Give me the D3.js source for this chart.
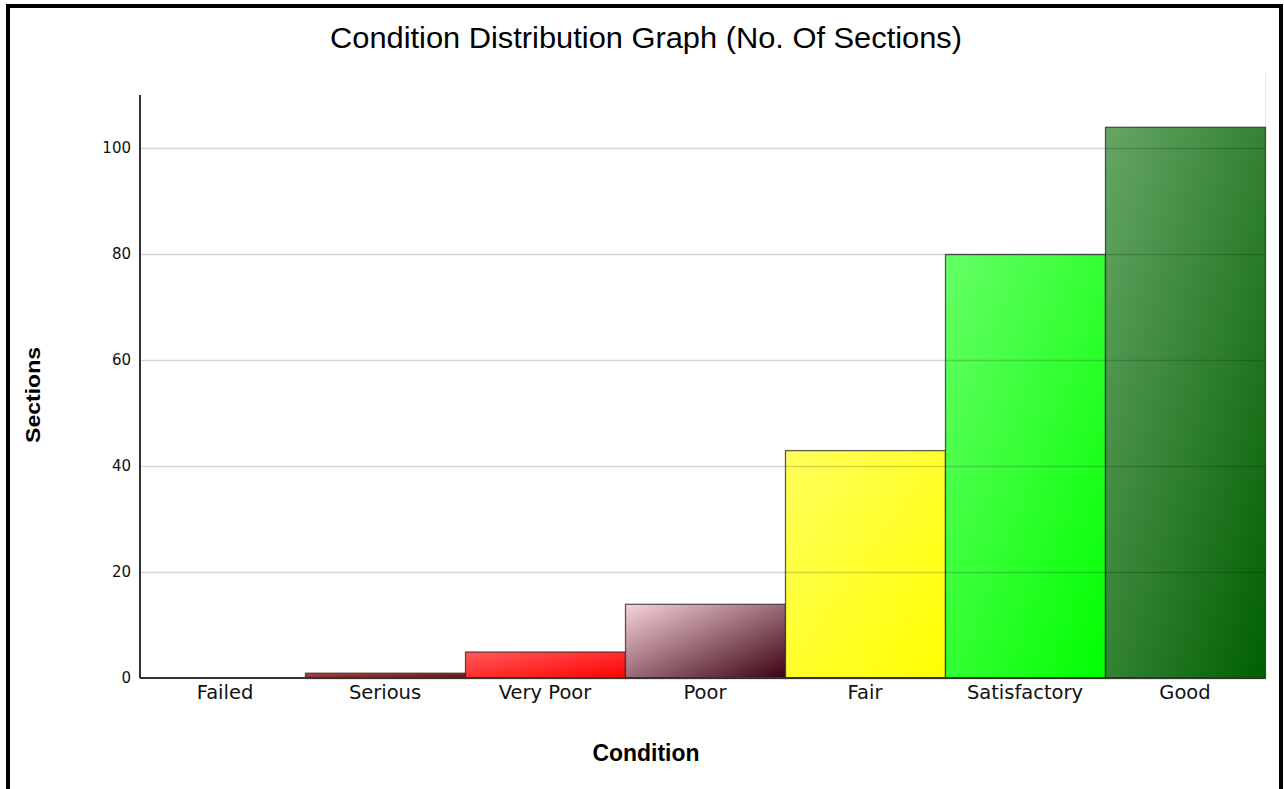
<!DOCTYPE html>
<html>
<head>
<meta charset="utf-8">
<script src="https://cdn.jsdelivr.net/npm/d3@7/dist/d3.min.js"></script>
<style>
  html, body { margin: 0; padding: 0; background: #fff; }
  svg { display: block; }
</style>
</head>
<body>
<svg id="chart" width="1284" height="789"></svg>
<script>
// Condition categories and the number of sections in each
const categories = ["Failed", "Serious", "Very Poor", "Poor", "Fair", "Satisfactory", "Good"];
const sections = [0, 1, 5, 14, 43, 80, 104];
const yTicks = [0, 20, 40, 60, 80, 100];

// Light (top-left) and dark (bottom-right) gradient stops for each category
const lightColors = ["#c05050", "#b04848", "#ff5a5a", "#f8d4dc", "#ffff5c", "#66ff66", "#66a666"];
const darkColors  = ["#600000", "#5a0808", "#ff0000", "#3a0010", "#ffff00", "#00ff00", "#005f00"];

const svg = d3.select("#chart");

// outer frame
svg.append("rect")
  .attr("x", 8).attr("y", 6)
  .attr("width", 1273).attr("height", 820)
  .attr("fill", "none").attr("stroke", "#000").attr("stroke-width", 4);

const x = d3.scaleBand().domain(categories).range([145, 1265]).padding(0);
const y = d3.scaleLinear().domain([0, 110]).range([678, 95]);

// gradients
const defs = svg.append("defs");
categories.forEach((c, i) => {
  const g = defs.append("linearGradient")
    .attr("id", "grad" + i)
    .attr("x1", 0).attr("y1", 0).attr("x2", 1).attr("y2", 1);
  g.append("stop").attr("offset", "0%").attr("stop-color", lightColors[i]);
  g.append("stop").attr("offset", "100%").attr("stop-color", darkColors[i]);
});

// title
svg.append("text")
  .attr("x", 646).attr("y", 48)
  .attr("text-anchor", "middle")
  .attr("font-family", "Liberation Sans, Arial, sans-serif")
  .attr("font-size", 30)
  .attr("textLength", 632)
  .attr("lengthAdjust", "spacingAndGlyphs")
  .attr("fill", "#000")
  .text("Condition Distribution Graph (No. Of Sections)");

// faint right edge of plot area
svg.append("line")
  .attr("x1", 1265.5).attr("x2", 1265.5)
  .attr("y1", 73).attr("y2", y(0))
  .attr("stroke", "#e8e8e8").attr("stroke-width", 1);

// bars
svg.append("g").selectAll("rect")
  .data(categories.map((c, i) => ({ c, v: sections[i], i })))
  .join("rect")
  .attr("x", d => x(d.c) + 0.5)
  .attr("y", d => y(d.v) + 0.5)
  .attr("width", x.bandwidth())
  .attr("height", d => Math.max(0, y(0) - y(d.v)))
  .attr("fill", d => `url(#grad${d.i})`)
  .attr("stroke", d => d.v > 0 ? "rgba(40,40,40,0.75)" : "none")
  .attr("stroke-width", 1.3);

// horizontal gridlines (drawn over the bars, faintly)
svg.append("g").selectAll("line")
  .data(yTicks.filter(t => t > 0))
  .join("line")
  .attr("x1", 141).attr("x2", 1265)
  .attr("y1", d => Math.round(y(d)) + 0.5)
  .attr("y2", d => Math.round(y(d)) + 0.5)
  .attr("stroke", "rgba(0,0,0,0.16)").attr("stroke-width", 1.3);

// y axis
const yAxis = svg.append("g")
  .attr("transform", "translate(140,0)")
  .call(d3.axisLeft(y).tickValues(yTicks).tickSize(0).tickPadding(9));
yAxis.select(".domain").attr("stroke", "#333").attr("stroke-width", 2)
  .attr("d", `M0,${y(110)}V${y(0)}`);
yAxis.selectAll("text")
  .attr("font-family", "Verdana, DejaVu Sans, sans-serif")
  .attr("font-size", 15).attr("fill", "#111");

// x axis
const xAxis = svg.append("g")
  .attr("transform", `translate(0,${y(0)})`)
  .call(d3.axisBottom(x).tickSize(0).tickPadding(7));
xAxis.select(".domain").attr("stroke", "#333").attr("stroke-width", 2)
  .attr("d", "M140,0H1265");
xAxis.selectAll("text")
  .attr("font-family", "Verdana, DejaVu Sans, sans-serif")
  .attr("font-size", 19.5).attr("fill", "#111");

// axis titles
svg.append("text")
  .attr("transform", "translate(40,395) rotate(-90)")
  .attr("text-anchor", "middle")
  .attr("font-family", "Liberation Sans, Arial, sans-serif")
  .attr("font-weight", "bold")
  .attr("font-size", 20)
  .attr("textLength", 96)
  .attr("lengthAdjust", "spacingAndGlyphs")
  .text("Sections");

svg.append("text")
  .attr("x", 646).attr("y", 761)
  .attr("text-anchor", "middle")
  .attr("font-family", "Liberation Sans, Arial, sans-serif")
  .attr("font-weight", "bold")
  .attr("font-size", 23)
  .attr("textLength", 107)
  .attr("lengthAdjust", "spacingAndGlyphs")
  .text("Condition");
</script>
</body>
</html>
